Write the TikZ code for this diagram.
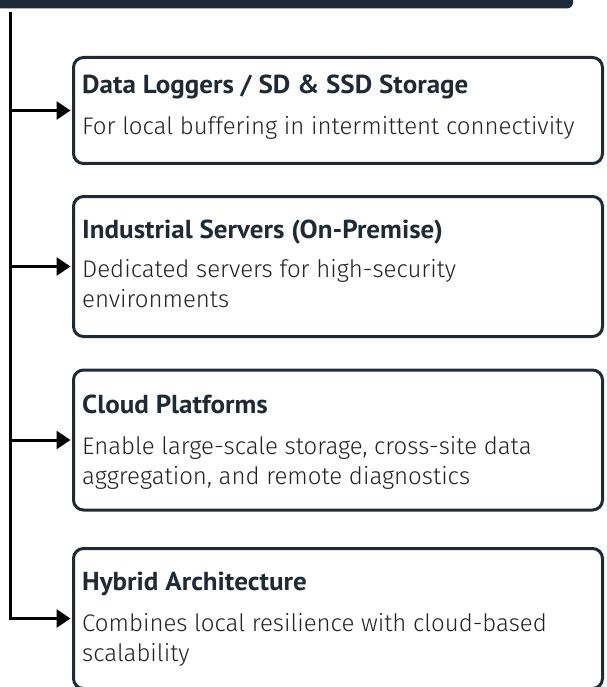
\documentclass[tikz,border=0pt]{standalone}
\usepackage{fontspec}
\setmainfont{Fira Sans Light}
\newfontfamily\titlefont[FakeStretch=1.04]{PT Sans Bold}
\usetikzlibrary{arrows.meta}
\definecolor{navy}{HTML}{1F2A36}
\definecolor{bodytext}{HTML}{222222}
\begin{document}
\begin{tikzpicture}[x=1pt,y=-1pt,
  box/.style={draw=navy, line width=3pt, rounded corners=10pt, fill=white,
    minimum width=529pt, inner sep=0pt},
  ttl/.style={anchor=base west, inner sep=0pt, text=navy,
    font=\titlefont\fontsize{26}{30}\selectfont},
  bdy/.style={anchor=base west, inner sep=0pt, text=bodytext, align=left,
    font=\fontsize{24}{30}\selectfont},
  link/.style={line width=3pt, -{Triangle[length=14pt,width=18pt]}, shorten >=1.5pt}]
\useasboundingbox (0,0) rectangle (606,687);
\clip (0,0) rectangle (606,687);
% header bar (cropped)
\fill[navy, rounded corners=6pt] (-20,-20) -- (573,-20) -- (573,8.5) -- (-20,8.5) -- cycle;
% boxes
\node[box, minimum height=106pt] (b1) at (338,110.5) {};
\node[box, minimum height=140pt] (b2) at (338,266.5) {};
\node[box, minimum height=140pt] (b3) at (338,440) {};
\node[box, minimum height=140pt] (b4) at (338,618.5) {};
% texts (body nodes anchored at the baseline of their last line)
\node[ttl] (t1) at (82,94) {Data Loggers / SD \& SSD Storage};
\node[bdy] (d1) at (82,135) {For local buffering in intermittent connectivity};
\node[ttl] (t2) at (82,238) {Industrial Servers (On-Premise)};
\node[bdy] (d2) at (82,307) {Dedicated servers for high-security\\environments};
\node[ttl] (t3) at (82,413) {Cloud Platforms};
\node[bdy] (d3) at (82,484) {Enable large-scale storage, cross-site data\\aggregation, and remote diagnostics};
\node[ttl] (t4) at (82,590) {Hybrid Architecture};
\node[bdy] (d4) at (82,661) {Combines local resilience with cloud-based\\scalability};
% connectors
\coordinate (spine) at (10.5,12);
\draw[link] (spine) |- (b4.west);
\foreach \b in {b1,b2,b3} \draw[link] (spine |- \b.west) -- (\b.west);
\end{tikzpicture}
\end{document}
